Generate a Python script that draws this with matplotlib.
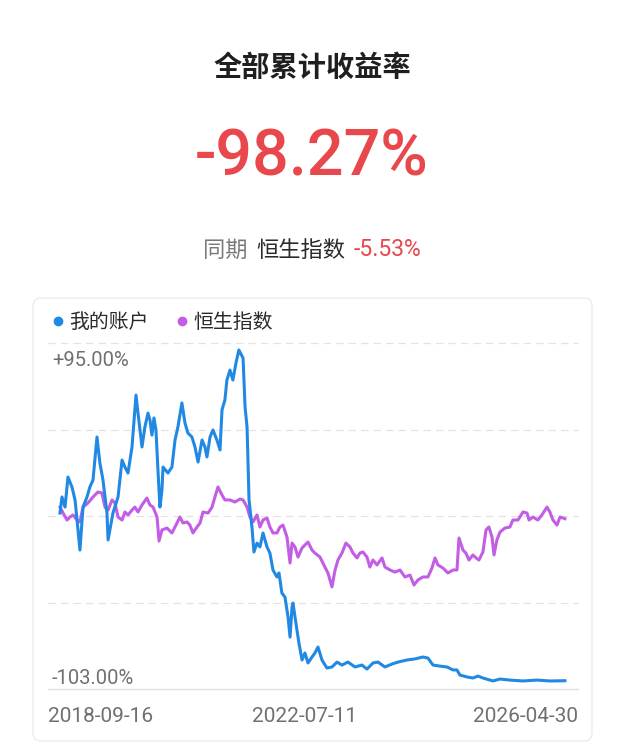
import numpy as np
import pandas as pd
import matplotlib
matplotlib.use("Agg")
import matplotlib.pyplot as plt
from matplotlib.lines import Line2D
from matplotlib.patches import FancyBboxPatch
from matplotlib.offsetbox import TextArea, HPacker, AnnotationBbox

# ---------------- data ----------------
title_text = "全部累计收益率"
total_return = "-98.27%"
bench_prefix = "同期"
bench_name = "恒生指数"
bench_return = "-5.53%"
series_names = ["我的账户", "恒生指数"]
x_tick_labels = ["2018-09-16", "2022-07-11", "2026-04-30"]
y_tick_values = [95.0, -103.0]
y_tick_labels = ["+95.00%", "-103.00%"]

account_dates = [
    "2018-09-16", "2018-09-27", "2018-10-14", "2018-10-30", "2018-11-21", "2018-12-08",
    "2018-12-19", "2019-01-04", "2019-01-21", "2019-02-12", "2019-02-28", "2019-03-17",
    "2019-04-08", "2019-04-24", "2019-05-11", "2019-06-02", "2019-06-08", "2019-07-05",
    "2019-08-02", "2019-08-24", "2019-09-09", "2019-09-26", "2019-10-18", "2019-11-09",
    "2019-11-20", "2019-12-12", "2019-12-28", "2020-01-14", "2020-01-25", "2020-02-05",
    "2020-02-16", "2020-02-27", "2020-03-09", "2020-03-20", "2020-03-31", "2020-04-06",
    "2020-05-03", "2020-05-25", "2020-06-11", "2020-06-27", "2020-07-19", "2020-08-05",
    "2020-08-21", "2020-09-12", "2020-09-29", "2020-10-16", "2020-11-07", "2020-11-23",
    "2020-12-04", "2020-12-21", "2021-01-06", "2021-01-28", "2021-02-14", "2021-02-25",
    "2021-03-13", "2021-03-24", "2021-04-10", "2021-04-26", "2021-05-13", "2021-05-29",
    "2021-06-21", "2021-07-02", "2021-07-13", "2021-07-24", "2021-08-09", "2021-08-20",
    "2021-09-06", "2021-09-22", "2021-10-09", "2021-10-31", "2021-11-16", "2021-12-03",
    "2021-12-25", "2022-01-05", "2022-01-21", "2022-02-07", "2022-02-24", "2022-03-07",
    "2022-03-18", "2022-03-23", "2022-04-14", "2022-04-25", "2022-05-12", "2022-05-28",
    "2022-06-14", "2022-07-06", "2022-07-22", "2022-08-08", "2022-08-30", "2022-09-26",
    "2022-10-24", "2022-11-21", "2022-12-18", "2023-01-20", "2023-02-28", "2023-04-07",
    "2023-05-05", "2023-06-07", "2023-07-05", "2023-08-12", "2023-09-20", "2023-10-23",
    "2023-12-11", "2024-01-24", "2024-03-08", "2024-04-05", "2024-05-03", "2024-06-10",
    "2024-07-19", "2024-08-21", "2024-09-12", "2024-09-28", "2024-11-06", "2024-12-09",
    "2025-01-06", "2025-02-02", "2025-03-29", "2025-05-07", "2025-07-01", "2025-09-11",
    "2025-11-27", "2026-02-06", "2026-04-30",
]
account_returns = [
    -2.3, 6.9, 1.1, 18.3, 12.6, 5.2,
    -6.3, -23.5, 1.1, 6.9, 12.6, 16.6,
    41.2, 26.3, 16.6, -2.3, -17.7, -2.3,
    6.9, 28.0, 24.0, 20.6, 35.5, 65.2,
    54.9, 35.5, 46.9, 54.9, 50.9, 42.3,
    52.1, 45.2, 22.3, 1.1, 10.9, 24.0,
    20.6, 24.0, 39.5, 46.9, 60.7, 49.2,
    43.5, 41.2, 35.5, 26.9, 39.5, 35.5,
    29.8, 41.2, 45.2, 39.5, 33.8, 56.7,
    62.4, 73.8, 79.5, 73.8, 83.6, 91.0,
    86.4, 58.4, 46.9, 5.2, -10.3, -24.6,
    -19.5, -21.7, -13.7, -21.7, -25.2, -34.9,
    -38.9, -36.6, -48.1, -50.4, -61.8, -73.3,
    -56.1, -53.8, -69.2, -76.7, -86.4, -82.4,
    -88.1, -84.7, -82.4, -79.0, -86.4, -91.0,
    -90.4, -87.6, -89.3, -87.6, -90.4, -89.3,
    -91.6, -88.1, -87.6, -90.4, -88.7, -87.6,
    -86.4, -85.8, -84.7, -85.3, -89.3, -89.9,
    -90.4, -92.1, -92.1, -95.0, -96.1, -96.7,
    -95.6, -96.7, -98.4, -97.3, -97.9, -98.4,
    -97.9, -98.4, -98.27,
]

hsi_dates = [
    "2018-09-16", "2018-10-03", "2018-10-25", "2018-11-10", "2018-11-27", "2018-12-19",
    "2019-01-04", "2019-01-21", "2019-02-17", "2019-03-17", "2019-04-13", "2019-05-05",
    "2019-05-22", "2019-06-08", "2019-06-30", "2019-07-16", "2019-08-02", "2019-08-24",
    "2019-09-09", "2019-09-26", "2019-10-18", "2019-11-03", "2019-11-20", "2019-12-12",
    "2020-01-08", "2020-01-25", "2020-02-11", "2020-03-04", "2020-03-15", "2020-03-31",
    "2020-04-28", "2020-05-25", "2020-06-22", "2020-07-08", "2020-07-25", "2020-08-16",
    "2020-09-01", "2020-09-18", "2020-10-10", "2020-10-27", "2020-11-12", "2020-12-10",
    "2021-01-01", "2021-01-17", "2021-02-03", "2021-02-25", "2021-03-13", "2021-04-10",
    "2021-05-07", "2021-06-04", "2021-06-21", "2021-07-13", "2021-07-29", "2021-08-15",
    "2021-09-06", "2021-09-22", "2021-10-09", "2021-10-31", "2021-11-16", "2021-12-03",
    "2021-12-25", "2022-01-10", "2022-01-27", "2022-02-18", "2022-03-07", "2022-03-18",
    "2022-04-03", "2022-04-20", "2022-05-12", "2022-05-28", "2022-06-14", "2022-07-06",
    "2022-07-22", "2022-08-19", "2022-09-15", "2022-10-02", "2022-10-24", "2022-11-10",
    "2022-11-26", "2022-12-18", "2023-01-09", "2023-01-31", "2023-02-17", "2023-03-11",
    "2023-03-27", "2023-04-13", "2023-05-05", "2023-05-21", "2023-06-07", "2023-06-29",
    "2023-07-27", "2023-08-12", "2023-09-09", "2023-10-06", "2023-11-03", "2023-11-30",
    "2023-12-28", "2024-01-19", "2024-02-10", "2024-03-08", "2024-04-05", "2024-04-27",
    "2024-05-14", "2024-05-30", "2024-06-27", "2024-07-24", "2024-08-21", "2024-09-12",
    "2024-09-23", "2024-10-15", "2024-10-31", "2024-11-17", "2024-12-09", "2024-12-26",
    "2025-01-11", "2025-02-02", "2025-02-19", "2025-03-07", "2025-03-24", "2025-04-04",
    "2025-04-20", "2025-05-07", "2025-06-03", "2025-07-01", "2025-07-17", "2025-08-14",
    "2025-09-11", "2025-10-03", "2025-10-14", "2025-11-05", "2025-12-02", "2025-12-24",
    "2026-01-21", "2026-02-06", "2026-02-23", "2026-03-17", "2026-04-03", "2026-04-30",
]
hsi_returns = [
    1.1, -2.3, -6.3, -4.6, -3.4, -6.3,
    -7.4, 1.1, 3.4, 6.9, 9.7, 9.2,
    1.1, -0.6, 5.2, 3.4, -4.6, -6.3,
    -1.7, -3.4, -0.6, 1.1, -1.7, 2.3,
    6.3, 2.3, 1.1, -4.6, -18.3, -12.0,
    -10.9, -13.7, -8.0, -4.6, -8.0, -7.4,
    -9.2, -13.7, -10.3, -8.0, -1.7, -2.3,
    1.1, 6.9, 12.6, 8.0, 5.2, 5.2,
    4.0, 5.7, 5.2, 1.1, -4.6, -7.4,
    -3.4, -10.3, -6.3, -5.2, -10.3, -13.7,
    -13.7, -10.3, -9.2, -16.0, -30.9, -19.5,
    -21.7, -27.5, -22.3, -20.6, -18.9, -23.5,
    -25.2, -27.5, -33.2, -36.6, -44.6, -34.9,
    -29.2, -25.2, -19.5, -21.7, -25.2, -28.0,
    -25.2, -24.6, -27.5, -33.2, -29.2, -32.0,
    -28.0, -33.2, -34.9, -36.1, -34.9, -38.9,
    -37.8, -43.5, -40.6, -38.9, -38.9, -33.8,
    -28.0, -32.0, -33.8, -36.6, -34.9, -34.9,
    -16.6, -23.5, -25.2, -29.2, -26.3, -28.0,
    -29.2, -24.6, -12.0, -10.3, -16.0, -26.3,
    -17.7, -13.2, -10.9, -10.3, -6.3, -6.3,
    -1.7, -2.3, -6.3, -4.6, -6.3, -3.4,
    1.1, -1.7, -6.3, -9.2, -4.6, -5.53,
]

# ---------------- style ----------------
BLUE = "#2189E3"
PURPLE = "#C25EE6"
RED = "#E8474C"
CJK = ["Noto Sans CJK SC", "DejaVu Sans"]
NUM = ["Roboto", "DejaVu Sans"]

W, H = 624, 744
fig = plt.figure(figsize=(W / 100, H / 100), dpi=100)
fig.patch.set_facecolor("white")

def fx(px):
    return px / W

def fy(py):
    return 1 - py / H

# chart panel (behind the axes)
panel = FancyBboxPatch((fx(33), fy(741)), fx(592) - fx(33), fy(298) - fy(741),
                       boxstyle="round,pad=0,rounding_size=0.012",
                       transform=fig.transFigure, facecolor="white",
                       edgecolor="#ebebeb", linewidth=1.0, zorder=-5)
fig.patches.append(panel)

# header texts
fig.text(0.5, fy(68), title_text, ha="center", va="center", fontsize=20.3,
         fontweight="bold", color="#1f1f1f", family=CJK)
fig.text(0.5, fy(157), total_return, ha="center", va="center", fontsize=46.5,
         fontweight="medium", color=RED, family=NUM)

parts = [
    TextArea(bench_prefix, textprops=dict(color="#7a7a7a", fontsize=16, family=CJK)),
    TextArea(bench_name, textprops=dict(color="#2a2a2a", fontsize=16, family=CJK)),
    TextArea(bench_return, textprops=dict(color=RED, fontsize=16.5, family=NUM)),
]
pack = HPacker(children=parts, pad=0, sep=6, align="baseline")
ab = AnnotationBbox(pack, (0.5, fy(250)), xycoords="figure fraction",
                    frameon=False, box_alignment=(0.5, 0.5), zorder=3)
fig.add_artist(ab)

# axes
ax = fig.add_axes([fx(48), fy(689), fx(578) - fx(48), fy(343) - fy(689)])
ax.set_facecolor("none")
ax.set_zorder(2)

acc_d = pd.to_datetime(account_dates)
hsi_d = pd.to_datetime(hsi_dates)

ax.plot(hsi_d, hsi_returns, color=PURPLE, lw=2.2, solid_joinstyle="round", zorder=3)
ax.plot(acc_d, account_returns, color=BLUE, lw=2.2, solid_joinstyle="round", zorder=4)

x0 = min(acc_d[0], hsi_d[0]) - pd.Timedelta(days=66)
x1 = max(acc_d[-1], hsi_d[-1]) + pd.Timedelta(days=72)
ax.set_xlim(x0, x1)
ax.set_ylim(y_tick_values[1], y_tick_values[0])

grid_vals = np.linspace(y_tick_values[1], y_tick_values[0], 5)
for gv in grid_vals[1:]:
    ax.axhline(gv, color="#e3e3e3", lw=0.9, ls=(0, (6, 4)), zorder=1, clip_on=False)
ax.axhline(grid_vals[0], color="#e0e0e0", lw=1.0, zorder=1, clip_on=False)

for s in ax.spines.values():
    s.set_visible(False)
ax.set_xticks([])
ax.set_yticks([])

# y labels
ax.annotate(y_tick_labels[0], xy=(0, y_tick_values[0]), xycoords=("axes fraction", "data"),
            xytext=(4, -17), textcoords="offset pixels", ha="left", va="center",
            fontsize=14.5, color="#707070", family=NUM, zorder=5)
ax.annotate(y_tick_labels[1], xy=(0, y_tick_values[1]), xycoords=("axes fraction", "data"),
            xytext=(4, 11), textcoords="offset pixels", ha="left", va="center",
            fontsize=14.5, color="#707070", family=NUM, zorder=5)

# x labels
fig.text(fx(48), fy(716), x_tick_labels[0], ha="left", va="center", fontsize=15,
         color="#707070", family=NUM)
fig.text(fx(305), fy(716), x_tick_labels[1], ha="center", va="center", fontsize=15,
         color="#707070", family=NUM)
fig.text(fx(578), fy(716), x_tick_labels[2], ha="right", va="center", fontsize=15,
         color="#707070", family=NUM)

# legend
handles = [Line2D([], [], ls="none", marker="o", markersize=6, color=BLUE),
           Line2D([], [], ls="none", marker="o", markersize=6, color=PURPLE)]
fig.legend(handles, series_names, loc="center left", bbox_to_anchor=(fx(40), fy(322)),
           ncol=2, frameon=False, prop=dict(family=CJK, size=14.3),
           handletextpad=0.05, columnspacing=1.2, handlelength=1.0, borderaxespad=0,
           labelcolor="#2a2a2a")

fig.savefig("out.png", dpi=100, facecolor="white")
